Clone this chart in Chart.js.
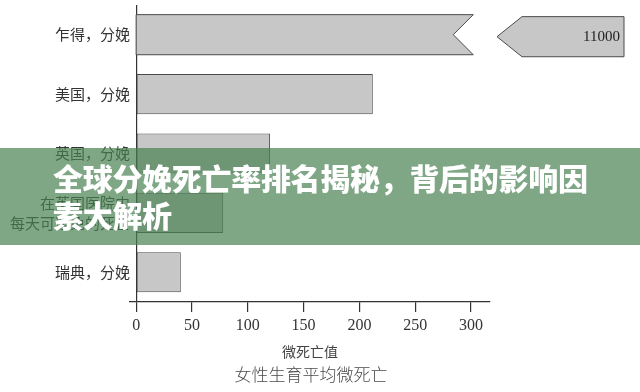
<!DOCTYPE html>
<html lang="zh">
<head>
<meta charset="utf-8">
<title>女性生育平均微死亡</title>
<script src="https://cdn.jsdelivr.net/npm/chart.js@4/dist/chart.umd.min.js"></script>
<style>
  html, body { margin: 0; padding: 0; background: #fff; }
  #wrap { position: relative; width: 640px; height: 392px; overflow: hidden; }
  #chart { position: absolute; left: 0; top: 0; }
  #caption {
    position: absolute; left: 0; width: 622px; top: 361px;
    text-align: center; font: 300 17px "Noto Sans CJK SC", sans-serif; color: #4a4a4a;
  }
  #banner {
    position: absolute; left: 0; top: 148px; width: 640px; height: 97px;
    background: rgba(72, 130, 82, 0.70);
  }
  #banner div {
    position: absolute; left: 53px; top: 11px;
    font: 900 30px/37px "Noto Sans CJK SC", sans-serif; color: #fff; letter-spacing: -0.3px;
  }
</style>
</head>
<body>
<div id="wrap">
  <canvas id="chart" width="640" height="392"></canvas>
  <div id="caption">女性生育平均微死亡</div>
  <div id="banner"><div>全球分娩死亡率排名揭秘，背后的影响因<br>素大解析</div></div>
</div>
<script>
// Average micromorts of giving birth, by country
const categories = ['乍得，分娩', '美国，分娩', '英国，分娩', ['在英国医院中', '每天可避免的死亡'], '瑞典，分娩'];
const micromorts = [11000, 212, 120, 78, 40];
const tickValues = [0, 50, 100, 150, 200, 250, 300];
const axisTitle = '微死亡值';

// Scale window and where an off-scale bar is cut
const X_MIN = -5.5, X_MAX = 317, BREAK_AT = 302;

const BAR_FILL = '#c7c7c7';
const BAR_EDGE = '#4a4a4a';
const INK = '#333';

// Bars beyond the axis are drawn cut with a notch, and the rest shown as an arrow tag with the value
const brokenBars = {
  id: 'brokenBars',
  afterDatasetsDraw(chart) {
    const { ctx, chartArea, scales: { x } } = chart;
    const meta = chart.getDatasetMeta(0);
    meta.data.forEach((el, i) => {
      const v = micromorts[i];
      if (v <= X_MAX) return;
      const top = el.y - el.height / 2, bot = el.y + el.height / 2;
      const base = x.getPixelForValue(0);
      const cut = x.getPixelForValue(BREAK_AT);
      const notch = 20;
      ctx.save();
      ctx.fillStyle = BAR_FILL;
      ctx.strokeStyle = BAR_EDGE;
      ctx.lineWidth = 1;
      ctx.beginPath();
      ctx.moveTo(base, top);
      ctx.lineTo(cut, top);
      ctx.lineTo(cut - notch, el.y);
      ctx.lineTo(cut, bot);
      ctx.lineTo(base, bot);
      ctx.closePath();
      ctx.fill();
      ctx.stroke();

      // arrow tag to the right of the plot
      const tip = chartArea.right + 7, shoulder = tip + 25, end = chartArea.right + 134;
      const t2 = top + 2, b2 = bot + 2, m2 = el.y + 2;
      ctx.beginPath();
      ctx.moveTo(tip, m2);
      ctx.lineTo(shoulder, t2);
      ctx.lineTo(end, t2);
      ctx.lineTo(end, b2);
      ctx.lineTo(shoulder, b2);
      ctx.closePath();
      ctx.fill();
      ctx.stroke();
      ctx.fillStyle = '#222';
      ctx.font = '15px "Liberation Serif", serif';
      ctx.textAlign = 'right';
      ctx.textBaseline = 'middle';
      ctx.fillText(String(v), end - 4, m2);
      ctx.restore();
    });
  }
};

new Chart(document.getElementById('chart'), {
  type: 'bar',
  data: {
    labels: categories,
    datasets: [{
      data: micromorts,
      backgroundColor: micromorts.map(v => v > X_MAX ? 'rgba(0,0,0,0)' : BAR_FILL),
      borderColor: micromorts.map(v => v > X_MAX ? 'rgba(0,0,0,0)' : BAR_EDGE),
      borderWidth: 1,
      borderSkipped: false,
      categoryPercentage: 1,
      barPercentage: 0.675
    }]
  },
  options: {
    indexAxis: 'y',
    responsive: false,
    animation: false,
    layout: { padding: { left: 0, top: 5, right: 150, bottom: 32 } },
    plugins: { legend: { display: false }, tooltip: { enabled: false } },
    scales: {
      x: {
        min: X_MIN, max: X_MAX,
        afterBuildTicks(scale) { scale.ticks = tickValues.map(v => ({ value: v })); },
        ticks: {
          includeBounds: false,
          padding: 4,
          color: INK,
          font: { family: '"Liberation Serif", serif', size: 16 },
          maxRotation: 0
        },
        grid: {
          drawOnChartArea: true,
          color: c => (c.tick && c.tick.value === 0) ? INK : 'rgba(0,0,0,0)',
          lineWidth: 1.2,
          tickColor: INK,
          tickLength: 10,
          tickWidth: 1.2
        },
        border: { display: true, color: INK, width: 1.2 },
        title: {
          display: true, text: axisTitle, color: '#444',
          font: { family: '"Noto Sans CJK SC", sans-serif', size: 14 },
          padding: { top: 4, bottom: 0 }
        }
      },
      y: {
        afterFit(scale) {
          scale.width = 130;
          // labels sit in the middle of their bands, so no extra room above or below
          scale.paddingTop = 0;
          scale.paddingBottom = 0;
        },
        grid: { display: false, drawTicks: false },
        border: { display: false },
        ticks: {
          padding: 0,
          color: INK,
          font: { family: '"Noto Sans CJK SC", sans-serif', size: 15, lineHeight: 1.33 }
        }
      }
    }
  },
  plugins: [brokenBars]
});
</script>
</body>
</html>
